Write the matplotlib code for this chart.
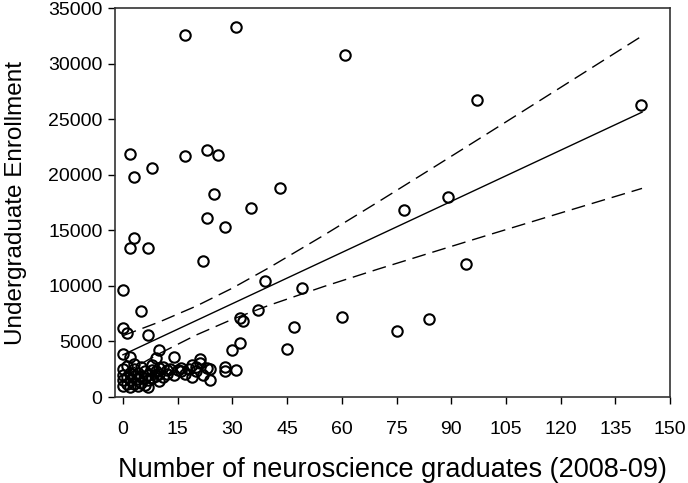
import matplotlib
matplotlib.use("Agg")
import matplotlib.pyplot as plt

# scatter: neuroscience graduates vs undergraduate enrollment
grads = [17, 31, 61, 2, 3, 8, 17, 23, 26, 25, 43, 35, 23, 28, 97, 142, 77, 89, 94, 84,
         75, 3, 2, 7, 22, 0, 5, 0, 1, 7, 39, 49, 37, 32, 33, 60, 47, 32, 30, 45,
         0, 2, 10, 9, 14, 21, 21, 3, 19, 24, 28, 28, 31, 24, 19, 15, 16, 12, 10, 7,
         0, 0, 0, 0, 1, 1, 1, 2, 2, 2, 3, 3, 3, 4, 4, 4, 5, 5, 5, 6,
         6, 6, 7, 7, 8, 8, 8, 9, 9, 10, 10, 11, 11, 12, 13, 14, 16, 17, 18, 20,
         20, 22, 23]
enroll = [32600, 33300, 30800, 21900, 19800, 20600, 21700, 22200, 21800, 18300,
          18800, 17000, 16100, 15300, 26700, 26300, 16800, 18000, 12000, 7000,
          5900, 14300, 13400, 13400, 12200, 9600, 7700, 6200, 5800, 5600,
          10400, 9800, 7800, 7100, 6800, 7200, 6300, 4900, 4200, 4300,
          3900, 3600, 4200, 3500, 3600, 3400, 3100, 3000, 2900, 2500,
          2700, 2300, 2400, 1500, 1800, 2400, 2300, 2400, 1400, 900,
          1000, 1500, 2000, 2500, 1200, 1800, 2800, 900, 1500, 2200,
          1200, 1900, 2500, 1000, 1600, 2200, 1300, 1900, 2700, 1100,
          1700, 2300, 1500, 2000, 1700, 2400, 2900, 1900, 2300, 2100,
          2600, 1800, 2700, 2100, 2500, 2000, 2600, 2100, 2500, 2300,
          2700, 2000, 2600]

# regression line and its confidence band
fit_x = [0, 142.3]
fit_y = [3800, 25640]
band_x = [0, 10, 20, 30, 40, 55, 70, 85, 100, 120, 142.3]
band_upper = [5520, 6760, 8170, 9800, 11630, 14550, 17570, 20640, 23730, 27870, 32500]
band_lower = [2080, 3910, 5570, 7000, 8250, 9940, 11520, 13050, 14570, 16570, 18780]

plt.rcParams['font.family'] = ['Liberation Sans', 'DejaVu Sans']

fig = plt.figure(figsize=(6.88, 4.83), dpi=100)
ax = fig.add_axes([0.167, 0.178, 0.807, 0.805])

ax.plot(grads, enroll, linestyle='none', marker='o', markersize=7.5,
        markerfacecolor='none', markeredgecolor='black', markeredgewidth=1.5)
ax.plot(fit_x, fit_y, color='black', linewidth=1)
ax.plot(band_x, band_upper, color='black', linewidth=1, dashes=(10, 5))
ax.plot(band_x, band_lower, color='black', linewidth=1, dashes=(10, 5))

ax.set_xlim(-2.2, 150)
ax.set_ylim(0, 35000)
ax.set_xticks(range(0, 151, 15))
ax.set_yticks(range(0, 35001, 5000))
ax.tick_params(direction='out', length=5, width=1, labelsize=14)
ax.tick_params(axis='x', pad=12)
ax.tick_params(axis='y', pad=4)
for s in ax.spines.values():
    s.set_linewidth(1.2)
    s.set_color('#333333')

ax.set_xlabel('Number of neuroscience graduates (2008-09)', fontsize=19.5, labelpad=14)
ax.set_ylabel('Undergraduate Enrollment', fontsize=17.5, labelpad=15)

fig.savefig('out.png', dpi=100)
